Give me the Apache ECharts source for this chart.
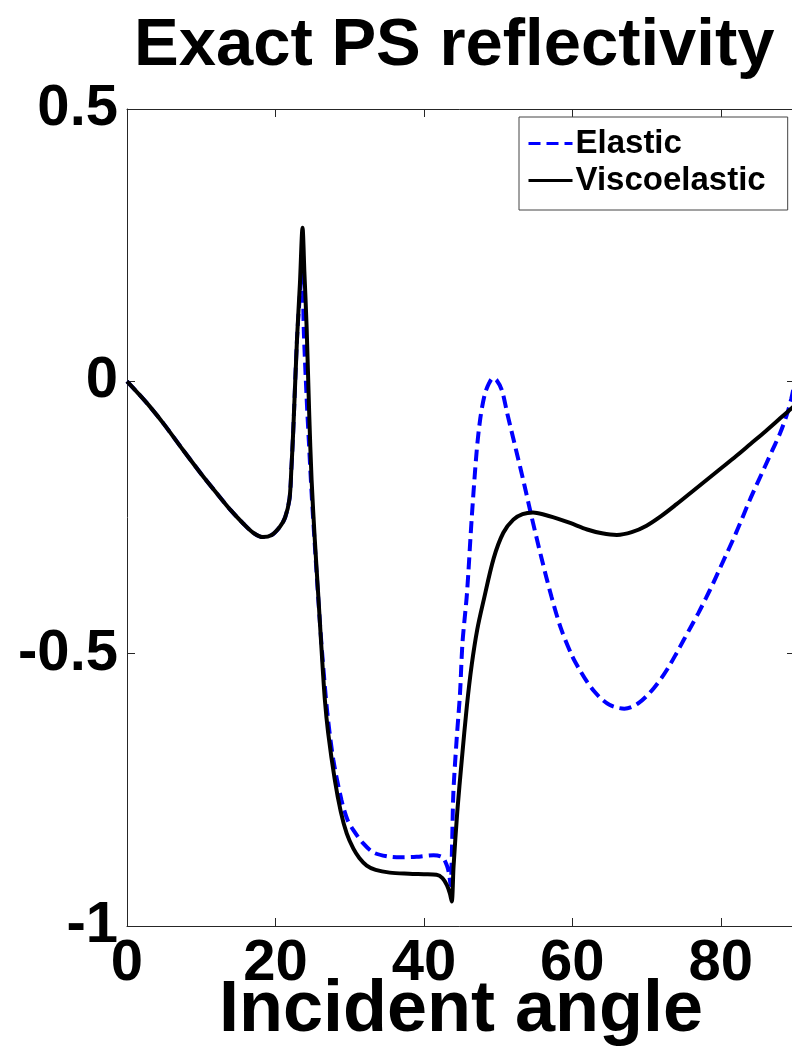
<!DOCTYPE html>
<html>
<head>
<meta charset="utf-8">
<title>Exact PS reflectivity</title>
<script src="https://cdn.jsdelivr.net/npm/echarts@6/dist/echarts.min.js"></script>
<style>
  html, body { margin: 0; padding: 0; background: #ffffff; }
  #chart { width: 792px; height: 1052px; }
</style>
</head>
<body>
<div id="chart"></div>
<script>
// Incident angles (degrees) and PS reflection coefficients for each medium
const elasticAngles = [
  0, 1.5, 3.06, 5, 7.55, 10, 12.06, 14, 15.65, 17, 18.3, 19.5, 20.6, 21.3, 21.9, 22.15, 22.4, 22.9, 23.3,
  23.6, 23.83, 24.2, 24.5, 24.87, 25.3, 25.8, 26.3, 27.0, 27.8, 28.9, 29.7, 30.5, 31.8, 33.2, 35,
  36.8, 39, 41.3, 42.5, 43.1, 43.4, 43.6, 43.8, 43.97, 44.4, 44.87, 45.2, 45.8, 46.45, 47.1, 47.6,
  48.2, 48.8, 49.3, 49.8, 50.5, 51.25, 52.4, 53.5, 54.5, 55.8, 57.2, 58.5, 60, 61, 62, 63, 64, 65,
  66, 67, 68, 69, 70, 71, 72, 73, 74, 75, 76, 77, 78, 79, 80, 82, 84, 86, 87, 88, 89, 89.5, 90
];
const elasticValues = [
  0, -0.022, -0.046, -0.079, -0.126, -0.170, -0.205, -0.237, -0.261, -0.278, -0.286, -0.282, -0.267, -0.25, -0.215, -0.16, -0.09, 0.076, 0.16,
  0.2, 0.089, -0.03, -0.11, -0.205, -0.30, -0.405, -0.50, -0.61, -0.695, -0.769, -0.805, -0.824, -0.848, -0.865, -0.872,
  -0.874, -0.873, -0.870, -0.874, -0.889, -0.905, -0.925, -0.85, -0.756, -0.66, -0.572, -0.48, -0.39, -0.25, -0.13, -0.068,
  -0.024, -0.003, 0.006, 0.002, -0.016, -0.06, -0.125, -0.188, -0.248, -0.322, -0.396, -0.455, -0.505, -0.53, -0.552, -0.57, -0.584, -0.594,
  -0.599, -0.601, -0.598, -0.59, -0.578, -0.563, -0.545, -0.524, -0.5, -0.475, -0.45, -0.425, -0.398, -0.37, -0.34, -0.28, -0.215, -0.155, -0.125, -0.095, -0.057, -0.032, 0
];

const viscoAngles = [
  0, 1.5, 3.06, 5, 7.55, 10, 12.06, 14, 15.65, 17, 18.3, 19.5, 20.6, 21.3, 21.9, 22.15, 22.4, 22.9, 23.3,
  23.65, 23.9, 24.2, 24.55, 24.87, 25.3, 25.8, 26.2, 26.66, 27.1, 28.0, 28.8, 29.6, 30.5, 31.3, 32.3,
  33.5, 35.4, 38, 40, 41.7, 42.5, 43.1, 43.5, 43.75, 44.0, 44.5, 45.1, 45.8, 46.45, 47.2, 48.0,
  49.4, 50.7, 52.05, 53.3, 54.7, 56, 58, 59.7, 62, 64, 66, 68, 70, 72, 74, 76, 78, 80, 82, 84, 86, 88, 90
];
const viscoValues = [
  0, -0.022, -0.046, -0.079, -0.126, -0.170, -0.205, -0.237, -0.261, -0.278, -0.286, -0.282, -0.267, -0.25, -0.215, -0.16, -0.09, 0.076, 0.18,
  0.282, 0.2, 0.1, -0.06, -0.181, -0.29, -0.40, -0.49, -0.585, -0.645, -0.732, -0.79, -0.83, -0.858, -0.875, -0.889,
  -0.897, -0.902, -0.904, -0.905, -0.906, -0.912, -0.925, -0.94, -0.955, -0.89, -0.79, -0.696, -0.595, -0.52, -0.455, -0.405,
  -0.325, -0.278, -0.254, -0.244, -0.241, -0.244, -0.252, -0.26, -0.272, -0.279, -0.282, -0.277, -0.265, -0.247, -0.226, -0.204, -0.182, -0.16, -0.138, -0.115, -0.092, -0.068, -0.044
];

// Axis ticks
const xTicks = [0, 20, 40, 60, 80];
const yTicks = [-1, -0.5, 0, 0.5];

const seriesNames = ['Elastic', 'Viscoelastic'];
const chartTitle = 'Exact PS reflectivity';
const xAxisTitle = 'Incident angle';

const FONT = '"Liberation Sans", Arial, Helvetica, sans-serif';
const AXIS_COLOR = '#262626';

function pairs(xs, ys) {
  return xs.map((x, i) => [x, ys[i]]);
}

const chart = echarts.init(document.getElementById('chart'), null, { renderer: 'canvas' });

const tickStyle = { show: true, inside: true, length: 8, lineStyle: { color: AXIS_COLOR, width: 1 } };
const lineStyleAxis = { show: true, onZero: false, lineStyle: { color: AXIS_COLOR, width: 1 } };

chart.setOption({
  animation: false,
  backgroundColor: '#ffffff',
  title: {
    text: chartTitle,
    left: 129,
    top: 8,
    textStyle: { fontFamily: FONT, fontSize: 67, fontWeight: 'bold', color: '#000000' }
  },
  grid: { left: 127, top: 109, right: -3, bottom: 126, containLabel: false, outerBoundsMode: 'none' },
  legend: {
    orient: 'vertical',
    left: 519,
    top: 117,
    padding: [10, 22, 13, 8],
    itemGap: 4,
    itemWidth: 44,
    itemHeight: 14,
    backgroundColor: '#ffffff',
    borderColor: '#444444',
    borderWidth: 1,
    borderRadius: 0,
    lineStyle: { width: 3 },
    itemStyle: { opacity: 0, borderWidth: 0 },
    textStyle: { fontFamily: FONT, fontSize: 33, fontWeight: 'bold', color: '#000000', padding: [0, 0, 0, -2] },
    data: seriesNames
  },
  xAxis: [
    {
      type: 'value',
      position: 'bottom',
      min: 0, max: 90, interval: 20,
      name: xAxisTitle,
      nameLocation: 'middle',
      nameGap: 49,
      nameMoveOverlap: false,
      nameTextStyle: { fontFamily: FONT, fontSize: 72, fontWeight: 'bold', color: '#000000', verticalAlign: 'top' },
      axisLine: lineStyleAxis,
      axisTick: tickStyle,
      splitLine: { show: false },
      axisLabel: {
        margin: 9,
        fontFamily: FONT, fontSize: 58, fontWeight: 'bold', color: '#000000',
        formatter: v => (xTicks.indexOf(v) >= 0 ? String(v) : '')
      }
    },
    {
      type: 'value',
      position: 'top',
      min: 0, max: 90, interval: 20,
      axisLine: lineStyleAxis,
      axisTick: tickStyle,
      splitLine: { show: false },
      axisLabel: { show: false }
    }
  ],
  yAxis: [
    {
      type: 'value',
      position: 'left',
      min: -1, max: 0.5, interval: 0.5,
      axisLine: lineStyleAxis,
      axisTick: tickStyle,
      splitLine: { show: false },
      axisLabel: {
        margin: 9,
        fontFamily: FONT, fontSize: 58, fontWeight: 'bold', color: '#000000',
        formatter: v => (yTicks.indexOf(v) >= 0 ? String(v) : '')
      }
    },
    {
      type: 'value',
      position: 'right',
      min: -1, max: 0.5, interval: 0.5,
      axisLine: lineStyleAxis,
      axisTick: tickStyle,
      splitLine: { show: false },
      axisLabel: { show: false }
    }
  ],
  series: [
    {
      name: seriesNames[0],
      type: 'line',
      xAxisIndex: 0, yAxisIndex: 0,
      data: pairs(elasticAngles, elasticValues),
      symbol: 'none',
      smooth: 0.3,
      lineStyle: { color: '#0000ff', width: 4, type: [12, 6] },
      itemStyle: { color: '#0000ff' },
      z: 2
    },
    {
      name: seriesNames[1],
      type: 'line',
      xAxisIndex: 0, yAxisIndex: 0,
      data: pairs(viscoAngles, viscoValues),
      symbol: 'none',
      smooth: 0.3,
      lineStyle: { color: '#000000', width: 4, type: 'solid' },
      itemStyle: { color: '#000000' },
      z: 3
    }
  ]
});
</script>
</body>
</html>
